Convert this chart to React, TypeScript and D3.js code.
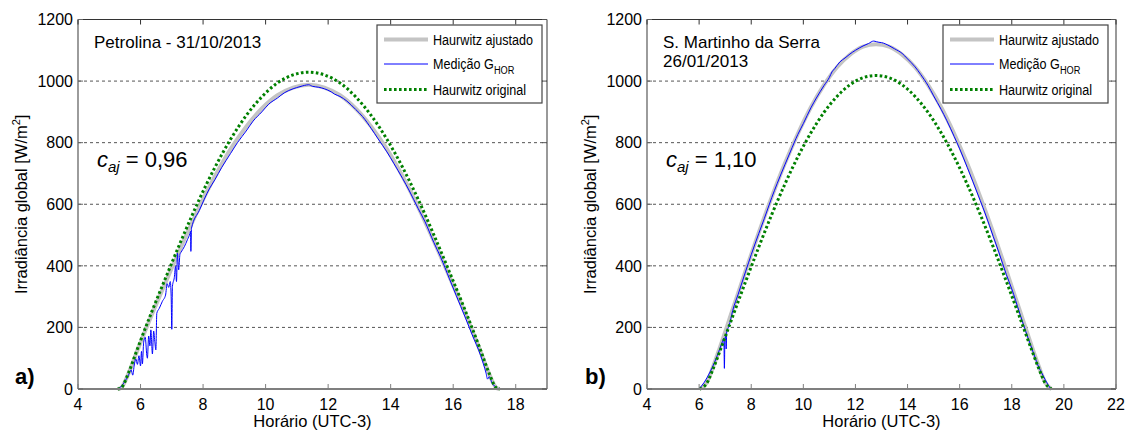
import React from "react";
import * as d3 from "d3";

// ---------- DATA ----------
// Panel a) Petrolina - 31/10/2013
const aModelHours = [5.27, 5.38, 5.63, 5.88, 6.38, 6.88, 7.38, 7.88, 8.38, 8.88, 9.38, 9.88, 10.38, 10.88, 11.38, 11.88, 12.38, 12.88, 13.38, 13.88, 14.38, 14.88, 15.38, 15.88, 16.38, 16.88, 17.13, 17.38, 17.49];
const aOriginal = [0, 4, 56, 125, 256, 380, 501, 616, 720, 811, 888, 949, 994, 1020, 1029, 1020, 994, 949, 888, 811, 720, 616, 501, 380, 256, 125, 56, 4, 0];
const aAdjusted = [0, 4, 54, 120, 246, 365, 481, 591, 691, 779, 852, 911, 954, 979, 988, 979, 954, 911, 852, 779, 691, 591, 481, 365, 246, 120, 54, 4, 0];
const aMeasHours = [5.26, 5.4, 5.5, 5.6, 5.7, 5.75, 5.8, 5.85, 5.9, 5.95, 6.0, 6.03, 6.06, 6.1, 6.15, 6.2, 6.22, 6.26, 6.3, 6.33, 6.38, 6.42, 6.46, 6.49, 6.52, 6.6, 6.7, 6.8, 6.85, 6.9, 6.95, 6.98, 7.0, 7.02, 7.08, 7.12, 7.15, 7.18, 7.22, 7.26, 7.3, 7.4, 7.5, 7.58, 7.6, 7.61, 7.63, 7.88, 8.2, 8.38, 8.6, 8.88, 9.1, 9.38, 9.6, 9.88, 10.1, 10.38, 10.6, 10.88, 11.1, 11.38, 11.5, 11.7, 11.88, 12.1, 12.2, 12.38, 12.6, 12.88, 13.1, 13.38, 13.6, 13.88, 14.1, 14.38, 14.6, 14.88, 15.1, 15.38, 15.6, 15.88, 16.1, 16.38, 16.6, 16.88, 17.05, 17.1, 17.15, 17.25, 17.38, 17.45];
const aMeasured = [0, 10, 25, 42, 62, 45, 78, 98, 80, 108, 75, 122, 82, 152, 168, 110, 100, 172, 140, 192, 114, 188, 150, 127, 246, 262, 285, 305, 342, 330, 349, 300, 194, 333, 362, 398, 349, 441, 387, 437, 445, 462, 485, 505, 512, 447, 522, 580, 650, 680, 720, 765, 800, 838, 870, 900, 925, 945, 962, 975, 982, 988, 983, 980, 975, 965, 958, 950, 935, 908, 885, 846, 812, 770, 733, 684, 643, 586, 543, 476, 428, 358, 303, 234, 178, 108, 52, 32, 40, 18, 5, 0];

// Panel b) S. Martinho da Serra - 26/01/2013
const bModelHours = [6.02, 6.29, 6.54, 6.79, 7.29, 7.79, 8.29, 8.79, 9.29, 9.79, 10.29, 10.79, 11.29, 11.79, 12.29, 12.79, 13.29, 13.79, 14.29, 14.79, 15.29, 15.79, 16.29, 16.79, 17.29, 17.79, 18.29, 18.79, 19.04, 19.29, 19.52];
const bOriginal = [0, 18, 66, 121, 236, 350, 461, 567, 665, 754, 832, 898, 950, 988, 1011, 1018, 1011, 988, 950, 898, 832, 754, 665, 567, 461, 350, 236, 121, 66, 18, 0];
const bAdjusted = [0, 20, 73, 133, 259, 385, 508, 624, 732, 829, 915, 987, 1045, 1086, 1112, 1120, 1112, 1086, 1045, 987, 915, 829, 732, 624, 508, 385, 259, 133, 73, 20, 0];
const bMeasHours = [5.99, 6.2, 6.4, 6.6, 6.8, 6.9, 6.95, 6.97, 6.99, 7.02, 7.04, 7.06, 7.15, 7.29, 7.5, 7.79, 8.0, 8.29, 8.5, 8.79, 9.0, 9.29, 9.5, 9.79, 10.0, 10.29, 10.5, 10.79, 11.0, 11.1, 11.2, 11.4, 11.6, 11.79, 12.0, 12.29, 12.5, 12.7, 12.8, 12.9, 13.0, 13.29, 13.5, 13.79, 14.0, 14.29, 14.5, 14.79, 15.0, 15.29, 15.5, 15.79, 16.0, 16.29, 16.5, 16.79, 17.0, 17.29, 17.5, 17.79, 18.0, 18.29, 18.5, 18.79, 19.0, 19.2, 19.35, 19.45, 19.5];
const bMeasured = [0, 22, 52, 88, 132, 155, 165, 67, 160, 172, 130, 185, 205, 255, 308, 383, 436, 505, 553, 622, 668, 728, 770, 827, 862, 913, 945, 985, 1012, 1030, 1040, 1062, 1075, 1088, 1100, 1114, 1122, 1130, 1128, 1126, 1125, 1115, 1105, 1090, 1072, 1046, 1022, 985, 952, 908, 873, 820, 780, 720, 675, 612, 565, 495, 445, 372, 325, 250, 196, 127, 78, 44, 20, 6, 0];

const yTicks = [0, 200, 400, 600, 800, 1000, 1200];
const yGrid = [200, 400, 600, 800, 1000];
const aXTicks = [4, 6, 8, 10, 12, 14, 16, 18];
const bXTicks = [4, 6, 8, 10, 12, 14, 16, 18, 20, 22];
const legendLabels = ["Haurwitz ajustado", "Medição G", "Haurwitz original"];

const FONT = "'Liberation Sans', Arial, sans-serif";
const GRAY = "#c4c4c4";
const BLUE = "#0000ff";
const GREEN = "#008000";

type PanelProps = {
  x0: number; x1: number; xMax: number; xTicks: number[];
  modelHours: number[]; original: number[]; adjusted: number[];
  measHours: number[]; measured: number[];
  site: string[]; coef: string; tag: string; tagX: number; yLabelX: number;
  yLabel: string; legendX: number;
};

function Panel(p: PanelProps) {
  const top = 19.5, bottom = 389;
  const x = d3.scaleLinear().domain([4, p.xMax]).range([p.x0, p.x1]);
  const y = d3.scaleLinear().domain([0, 1200]).range([bottom, top]);
  const line = d3.line<[number, number]>().x(d => x(d[0])).y(d => y(d[1])).curve(d3.curveMonotoneX);
  const adj = line(p.modelHours.map((h, i) => [h, p.adjusted[i]] as [number, number])) || "";
  const orig = line(p.modelHours.map((h, i) => [h, p.original[i]] as [number, number])) || "";
  const meas = line(p.measHours.map((h, i) => [h, p.measured[i]] as [number, number])) || "";
  const cx = (p.x0 + p.x1) / 2;
  const lx = p.legendX;
  const rows = [39.5, 64, 89.5];
  return (
    <g fontFamily={FONT}>
      {yGrid.map(v => (
        <line key={v} x1={p.x0} x2={p.x1} y1={y(v)} y2={y(v)} stroke="#555" strokeWidth={1} strokeDasharray="3,3" />
      ))}
      <path d={adj} fill="none" stroke={GRAY} strokeWidth={4} />
      <path d={meas} fill="none" stroke={BLUE} strokeWidth={1} />
      <path d={orig} fill="none" stroke={GREEN} strokeWidth={3} strokeDasharray="2.6,2.4" />
      {/* frame */}
      <line x1={p.x0} x2={p.x1} y1={top} y2={top} stroke="#333" strokeWidth={1} />
      <line x1={p.x1} x2={p.x1} y1={top} y2={bottom} stroke="#555" strokeWidth={1.2} />
      <line x1={p.x0} x2={p.x1} y1={bottom} y2={bottom} stroke="#7f7f7f" strokeWidth={2} />
      <line x1={p.x0} x2={p.x0} y1={top} y2={bottom} stroke="#666" strokeWidth={1.3} />
      {p.xTicks.map(t => (
        <g key={t}>
          <line x1={x(t)} x2={x(t)} y1={bottom} y2={bottom - 5} stroke="#7f7f7f" />
          <line x1={x(t)} x2={x(t)} y1={top} y2={top + 5} stroke="#333" />
          <text x={x(t)} y={409.5} textAnchor="middle" fontSize={16} fill="#000">{t}</text>
        </g>
      ))}
      {yTicks.map(v => (
        <g key={v}>
          <line x1={p.x0} x2={p.x0 + 5} y1={y(v)} y2={y(v)} stroke="#666" />
          <line x1={p.x1} x2={p.x1 - 5} y1={y(v)} y2={y(v)} stroke="#555" />
          <text x={p.x0 - 5} y={y(v)} dy="0.36em" textAnchor="end" fontSize={16} fill="#000">{v}</text>
        </g>
      ))}
      <text x={cx} y={427} textAnchor="middle" fontSize={16.5} fill="#000">Horário (UTC-3)</text>
      <text transform={`translate(${p.yLabelX},${(top + bottom) / 2}) rotate(-90)`} textAnchor="middle" fontSize={16.5} fill="#000">
        {p.yLabel}<tspan fontSize={11} dy={-7}>2</tspan><tspan dy={7}>]</tspan>
      </text>
      <text x={p.tagX} y={384} fontSize={22} fontWeight="bold" fill="#000">{p.tag}</text>
      {p.site.map((s, i) => (
        <text key={s} x={p.x0 + 16} y={47.5 + i * 19.5} fontSize={17} fill="#000">{s}</text>
      ))}
      <text x={p.x0 + 19} y={167} fontSize={22} fill="#000">
        <tspan fontStyle="italic">c</tspan>
        <tspan fontStyle="italic" fontSize={15} dy={5}>aj</tspan>
        <tspan dy={-5}>{" = " + p.coef}</tspan>
      </text>
      {/* legend */}
      <rect x={lx} y={25} width={165} height={78} fill="#fff" stroke="#444" strokeWidth={1.2} />
      <line x1={lx + 7} x2={lx + 51} y1={rows[0]} y2={rows[0]} stroke={GRAY} strokeWidth={4} />
      <line x1={lx + 7} x2={lx + 51} y1={rows[1]} y2={rows[1]} stroke={BLUE} strokeWidth={1} />
      <line x1={lx + 7} x2={lx + 51} y1={rows[2]} y2={rows[2]} stroke={GREEN} strokeWidth={3} strokeDasharray="2.6,2.4" />
      {legendLabels.map((s, i) => (
        <g key={s} transform={`translate(${lx + 56},${rows[i] + 5}) scale(0.84,1)`}>
          <text x={0} y={0} fontSize={15} fill="#000">
            {s}
            {i === 1 ? <tspan fontSize={11} dy={5}>HOR</tspan> : null}
          </text>
        </g>
      ))}
    </g>
  );
}

export default function App() {
  return (
    <div style={{ position: "absolute", left: 0, top: 0 }}>
      <svg width={1128} height={434} style={{ display: "block", background: "#fff" }}>
        <Panel x0={78} x1={547} xMax={19} xTicks={aXTicks}
          modelHours={aModelHours} original={aOriginal} adjusted={aAdjusted}
          measHours={aMeasHours} measured={aMeasured}
          site={["Petrolina - 31/10/2013"]} coef="0,96" tag="a)" tagX={15} yLabelX={27}
          yLabel="Irradiância global  [W/m" legendX={377} />
        <Panel x0={647} x1={1116} xMax={22} xTicks={bXTicks}
          modelHours={bModelHours} original={bOriginal} adjusted={bAdjusted}
          measHours={bMeasHours} measured={bMeasured}
          site={["S. Martinho da Serra", "26/01/2013"]} coef="1,10" tag="b)" tagX={585} yLabelX={596}
          yLabel="Irradiância global [W/m" legendX={943} />
      </svg>
    </div>
  );
}
